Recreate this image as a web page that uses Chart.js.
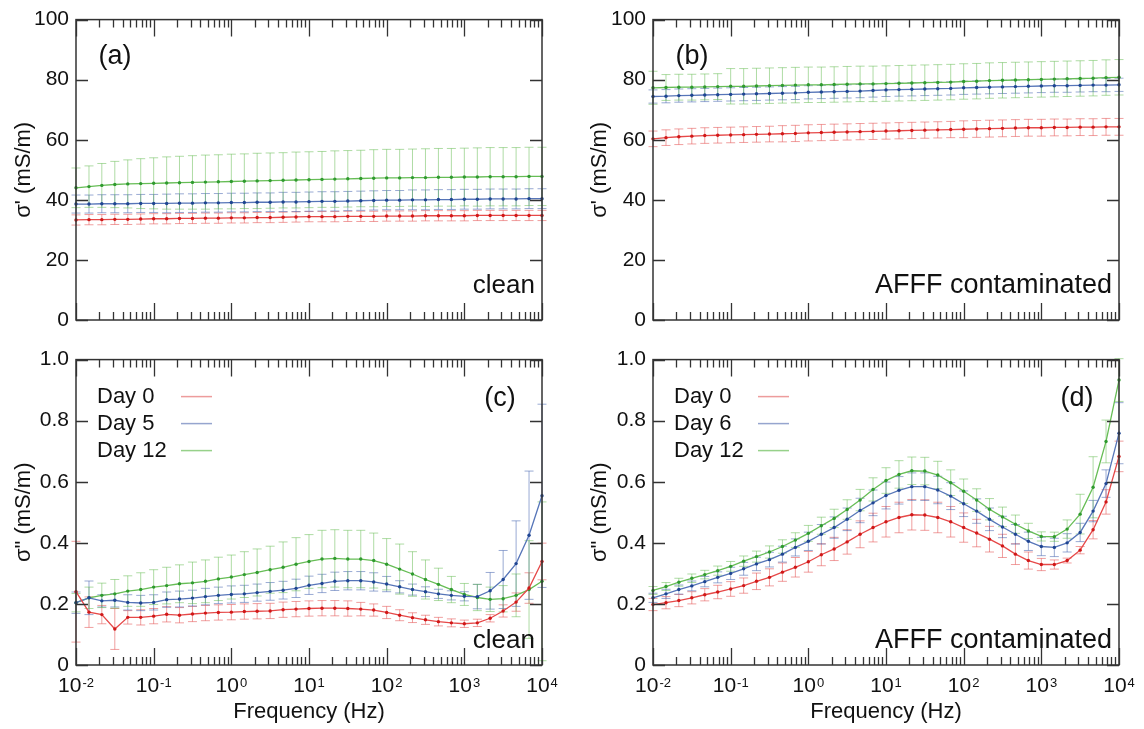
<!DOCTYPE html>
<html>
<head>
<meta charset="utf-8">
<script src="https://cdn.jsdelivr.net/npm/chart.js@4.4.1/dist/chart.umd.min.js"></script>
<style>
  body { margin: 0; background: #fff; }
  .wrap { position: relative; width: 1144px; height: 729px; }
  canvas { position: absolute; }
</style>
</head>
<body>
<div class="wrap">
  <canvas id="pa" width="572" height="340" style="left:0;top:0"></canvas>
  <canvas id="pb" width="572" height="340" style="left:572px;top:0"></canvas>
  <canvas id="pc" width="572" height="389" style="left:0;top:340px"></canvas>
  <canvas id="pd" width="572" height="389" style="left:572px;top:340px"></canvas>
</div>
<script>
// frequencies (Hz), 6 per decade
const freq = [0.01, 0.0147, 0.0215, 0.0316, 0.0464, 0.0681, 0.1, 0.147, 0.215, 0.316, 0.464, 0.681,
  1, 1.47, 2.15, 3.16, 4.64, 6.81, 10, 14.7, 21.5, 31.6, 46.4, 68.1,
  100, 147, 215, 316, 464, 681, 1000, 1470, 2150, 3160, 4640, 6810, 10000];

// tick labels
const xTickVals = [0.01, 0.1, 1, 10, 100, 1000, 10000];
const xTickExps = ['-2', '-1', '0', '1', '2', '3', '4'];
const yTicksReal = [0, 20, 40, 60, 80, 100];
const yLabelsReal = ['0', '20', '40', '60', '80', '100'];
const yTicksImag = [0, 0.2, 0.4, 0.6, 0.8, 1.0];
const yLabelsImag = ['0', '0.2', '0.4', '0.6', '0.8', '1.0'];

// (a) sigma' clean
const aDay0 = [33.3,33.4,33.4,33.5,33.5,33.6,33.7,33.7,33.8,33.8,33.9,33.9,34.0,34.0,34.1,34.1,34.2,34.3,34.4,34.4,34.4,34.5,34.5,34.5,34.6,34.6,34.6,34.7,34.7,34.7,34.7,34.8,34.8,34.8,34.8,34.8,34.8];
const aDay0Err = [1.7,1.7,1.7,1.7,1.7,1.7,1.7,1.7,1.7,1.7,1.7,1.7,1.7,1.7,1.7,1.7,1.7,1.7,1.7,1.7,1.7,1.7,1.7,1.7,1.7,1.7,1.7,1.7,1.7,1.7,1.7,1.7,1.7,1.7,1.7,1.7,1.7];
const aDay5 = [38.6,38.6,38.7,38.7,38.7,38.8,38.8,38.8,38.9,38.9,39.0,39.0,39.1,39.1,39.2,39.2,39.3,39.3,39.4,39.5,39.5,39.6,39.7,39.8,39.9,39.9,40.0,40.0,40.1,40.1,40.2,40.2,40.3,40.3,40.3,40.4,40.4];
const aDay5Err = [3.0,3.0,3.0,3.0,3.0,3.0,3.0,3.1,3.1,3.1,3.1,3.1,3.1,3.1,3.1,3.1,3.2,3.2,3.2,3.2,3.2,3.2,3.2,3.2,3.2,3.2,3.3,3.3,3.3,3.3,3.3,3.3,3.3,3.3,3.3,3.3,3.3];
const aDay12 = [44.0,44.4,44.8,45.1,45.3,45.4,45.5,45.6,45.7,45.8,45.9,46.0,46.1,46.2,46.3,46.4,46.5,46.6,46.7,46.8,46.9,47.0,47.1,47.2,47.3,47.3,47.4,47.4,47.5,47.5,47.6,47.6,47.7,47.7,47.7,47.8,47.8];
const aDay12Err = [6.6,6.9,7.3,7.7,8.0,8.3,8.5,8.7,8.8,8.9,9.0,9.0,9.1,9.1,9.2,9.2,9.2,9.3,9.3,9.3,9.4,9.4,9.4,9.5,9.5,9.5,9.5,9.6,9.6,9.6,9.6,9.7,9.7,9.7,9.7,9.7,9.7];

// (b) sigma' AFFF contaminated
const bDay0 = [60.3,60.7,61.0,61.2,61.4,61.5,61.6,61.7,61.8,61.9,62.0,62.1,62.3,62.4,62.5,62.6,62.7,62.8,62.9,63.0,63.1,63.2,63.3,63.4,63.5,63.6,63.7,63.8,63.9,64.0,64.0,64.1,64.1,64.2,64.2,64.3,64.3];
const bDay0Err = [2.6,2.6,2.6,2.6,2.6,2.6,2.6,2.6,2.6,2.6,2.7,2.7,2.7,2.7,2.7,2.7,2.7,2.7,2.7,2.7,2.7,2.7,2.7,2.7,2.8,2.8,2.8,2.8,2.8,2.8,2.8,2.8,2.8,2.8,2.8,2.8,2.8];
const bDay6 = [74.4,74.5,74.7,74.8,74.9,75.0,75.1,75.2,75.3,75.4,75.5,75.6,75.8,75.9,76.0,76.1,76.2,76.4,76.6,76.7,76.8,76.9,77.0,77.1,77.3,77.4,77.5,77.6,77.7,77.8,77.9,78.0,78.0,78.1,78.2,78.2,78.3];
const bDay6Err = [2.2,2.2,2.2,2.2,2.2,2.2,2.2,2.2,2.2,2.2,2.2,2.2,2.2,2.2,2.2,2.2,2.2,2.2,2.2,2.2,2.2,2.2,2.2,2.2,2.2,2.2,2.2,2.2,2.2,2.2,2.2,2.2,2.2,2.2,2.2,2.2,2.2];
const bDay12 = [77.3,77.4,77.5,77.5,77.6,77.7,77.8,77.8,77.9,78.0,78.1,78.2,78.3,78.3,78.4,78.5,78.6,78.6,78.7,78.8,78.9,79.0,79.1,79.2,79.4,79.5,79.7,79.8,79.9,80.0,80.1,80.2,80.3,80.4,80.5,80.7,80.8];
const bDay12Err = [5.5,4.3,4.3,4.3,4.3,4.3,5.9,5.9,5.9,5.9,5.9,5.9,5.9,5.9,5.9,5.9,5.9,5.9,5.9,5.9,5.9,5.9,5.9,5.9,5.9,5.9,5.9,5.9,5.9,5.9,5.9,5.9,5.9,5.9,5.9,5.9,5.9];

// (c) sigma'' clean
const cDay0 = [0.24,0.173,0.165,0.118,0.156,0.156,0.16,0.166,0.163,0.167,0.17,0.172,0.173,0.175,0.176,0.177,0.181,0.183,0.185,0.186,0.186,0.185,0.183,0.18,0.172,0.163,0.155,0.148,0.142,0.138,0.135,0.138,0.153,0.177,0.206,0.252,0.339];
const cDay0Err = [0.165,0.05,0.03,0.067,0.022,0.025,0.025,0.025,0.025,0.025,0.025,0.025,0.025,0.025,0.025,0.025,0.025,0.025,0.025,0.025,0.025,0.025,0.022,0.02,0.02,0.018,0.016,0.015,0.014,0.013,0.012,0.012,0.012,0.02,0.03,0.05,0.06];
const cDay5 = [0.204,0.22,0.21,0.212,0.205,0.203,0.205,0.214,0.216,0.219,0.224,0.228,0.231,0.233,0.237,0.241,0.245,0.251,0.261,0.267,0.274,0.276,0.276,0.272,0.265,0.256,0.247,0.24,0.233,0.228,0.225,0.224,0.243,0.28,0.332,0.425,0.554];
const cDay5Err = [0.035,0.055,0.02,0.022,0.025,0.025,0.025,0.025,0.026,0.026,0.027,0.027,0.028,0.028,0.028,0.029,0.029,0.03,0.03,0.03,0.03,0.03,0.03,0.03,0.025,0.02,0.018,0.016,0.015,0.015,0.015,0.04,0.06,0.095,0.14,0.21,0.3];
const cDay12 = [0.204,0.22,0.228,0.233,0.242,0.247,0.255,0.26,0.266,0.269,0.274,0.282,0.288,0.296,0.303,0.312,0.32,0.33,0.339,0.347,0.349,0.347,0.347,0.342,0.33,0.314,0.298,0.28,0.264,0.247,0.231,0.221,0.215,0.217,0.228,0.247,0.274];
const cDay12Err = [0.03,0.035,0.04,0.047,0.05,0.055,0.057,0.06,0.062,0.068,0.07,0.071,0.072,0.075,0.077,0.077,0.083,0.087,0.088,0.094,0.094,0.094,0.094,0.09,0.084,0.082,0.073,0.064,0.053,0.043,0.036,0.043,0.04,0.043,0.07,0.16,0.26];

// (d) sigma'' AFFF contaminated
const dDay0 = [0.198,0.204,0.211,0.22,0.23,0.239,0.249,0.26,0.274,0.287,0.304,0.32,0.338,0.361,0.38,0.403,0.428,0.45,0.469,0.483,0.492,0.491,0.483,0.469,0.45,0.432,0.412,0.39,0.363,0.342,0.329,0.329,0.342,0.376,0.443,0.534,0.683];
const dDay0Err = [0.02,0.02,0.02,0.02,0.02,0.022,0.024,0.025,0.027,0.028,0.03,0.032,0.034,0.036,0.038,0.04,0.044,0.047,0.05,0.05,0.05,0.05,0.05,0.05,0.048,0.045,0.042,0.038,0.034,0.028,0.02,0.015,0.008,0.012,0.03,0.04,0.05];
const dDay6 = [0.22,0.233,0.247,0.259,0.273,0.287,0.3,0.315,0.331,0.345,0.363,0.385,0.405,0.428,0.45,0.477,0.506,0.531,0.555,0.572,0.584,0.584,0.573,0.553,0.528,0.504,0.477,0.452,0.428,0.405,0.388,0.385,0.4,0.434,0.504,0.594,0.759];
const dDay6Err = [0.015,0.015,0.015,0.016,0.017,0.018,0.02,0.021,0.022,0.024,0.026,0.028,0.03,0.032,0.035,0.037,0.04,0.042,0.044,0.045,0.045,0.045,0.045,0.044,0.042,0.04,0.037,0.035,0.032,0.03,0.03,0.03,0.03,0.03,0.035,0.045,0.1];
const dDay12 = [0.244,0.257,0.271,0.284,0.296,0.309,0.323,0.34,0.355,0.37,0.388,0.409,0.431,0.456,0.48,0.509,0.54,0.575,0.604,0.624,0.636,0.635,0.622,0.597,0.569,0.54,0.51,0.485,0.461,0.439,0.421,0.42,0.445,0.494,0.582,0.732,0.933];
const dDay12Err = [0.013,0.013,0.013,0.014,0.014,0.015,0.016,0.017,0.018,0.02,0.022,0.024,0.026,0.028,0.03,0.032,0.035,0.038,0.042,0.045,0.045,0.045,0.045,0.042,0.04,0.037,0.035,0.032,0.03,0.025,0.015,0.015,0.03,0.065,0.1,0.07,0.07];

const FONT = "'Liberation Sans', Arial, sans-serif";
const INK = '#111';
const colours = {
  red:   { line: '#e64848', dot: '#d01818', err: 'rgba(228,80,80,0.55)', key: 'rgba(225,90,90,0.6)' },
  blue:  { line: '#5675b8', dot: '#1f4592', err: 'rgba(70,100,175,0.55)', key: 'rgba(80,105,175,0.6)' },
  green: { line: '#66bd55', dot: '#2f9a2f', err: 'rgba(95,185,75,0.5)', key: 'rgba(95,185,75,0.65)' }
};

function series(label, vals, errs, c) {
  return {
    label: label,
    data: freq.map((f, i) => ({ x: f, y: vals[i] })),
    err: errs,
    borderColor: c.line,
    borderWidth: 1.3,
    pointRadius: 1.7,
    pointBackgroundColor: c.dot,
    pointBorderWidth: 0,
    errColor: c.err,
    keyColor: c.key,
    tension: 0,
    clip: false
  };
}

// error bars drawn from the y scale
const errorBars = {
  id: 'errorBars',
  beforeDatasetsDraw(chart) {
    const ctx = chart.ctx, ys = chart.scales.y;
    chart.data.datasets.forEach((ds, di) => {
      const meta = chart.getDatasetMeta(di);
      ctx.save();
      ctx.strokeStyle = ds.errColor;
      ctx.lineWidth = 1;
      meta.data.forEach((pt, i) => {
        const v = ds.data[i].y, e = ds.err[i];
        const y1 = ys.getPixelForValue(v - e), y2 = ys.getPixelForValue(v + e);
        ctx.beginPath();
        ctx.moveTo(pt.x, y1); ctx.lineTo(pt.x, y2);
        ctx.moveTo(pt.x - 4.5, y1); ctx.lineTo(pt.x + 4.5, y1);
        ctx.moveTo(pt.x - 4.5, y2); ctx.lineTo(pt.x + 4.5, y2);
        ctx.stroke();
      });
      ctx.restore();
    });
  }
};

// frame, inward ticks, log labels, panel texts, legend
const deco = {
  id: 'deco',
  afterDraw(chart, args, o) {
    const ctx = chart.ctx, a = chart.chartArea;
    const xs = chart.scales.x, ys = chart.scales.y;
    ctx.save();
    ctx.strokeStyle = '#333';
    ctx.lineWidth = 1.5;
    ctx.strokeRect(a.left, a.top, a.right - a.left, a.bottom - a.top);
    ctx.beginPath();
    o.yTicks.forEach(v => {
      const y = Math.round(ys.getPixelForValue(v)) + 0.5;
      ctx.moveTo(a.left, y); ctx.lineTo(a.left + 12, y);
      ctx.moveTo(a.right, y); ctx.lineTo(a.right - 12, y);
    });
    xTickVals.forEach((d, k) => {
      const x = Math.round(xs.getPixelForValue(d)) + 0.5;
      ctx.moveTo(x, a.bottom); ctx.lineTo(x, a.bottom - 17);
      ctx.moveTo(x, a.top); ctx.lineTo(x, a.top + 17);
      if (k < xTickVals.length - 1) {
        for (let m = 2; m <= 9; m++) {
          const xm = Math.round(xs.getPixelForValue(d * m)) + 0.5;
          ctx.moveTo(xm, a.bottom); ctx.lineTo(xm, a.bottom - 8);
          ctx.moveTo(xm, a.top); ctx.lineTo(xm, a.top + 8);
        }
      }
    });
    ctx.lineWidth = 1.3;
    ctx.stroke();

    ctx.fillStyle = INK;
    if (o.xLabels) {
      xTickVals.forEach((d, k) => {
        const x = xs.getPixelForValue(d);
        ctx.font = '21px ' + FONT;
        const wb = ctx.measureText('10').width;
        ctx.font = '13px ' + FONT;
        const we = ctx.measureText(xTickExps[k]).width;
        const x0 = x - (wb + 1 + we) / 2;
        ctx.textAlign = 'left';
        ctx.textBaseline = 'alphabetic';
        ctx.font = '21px ' + FONT;
        ctx.fillText('10', x0, a.bottom + 27);
        ctx.font = '13px ' + FONT;
        ctx.fillText(xTickExps[k], x0 + wb + 1, a.bottom + 22);
      });
    }

    ctx.font = '27px ' + FONT;
    ctx.textAlign = 'center';
    ctx.textBaseline = 'middle';
    if (o.letterLeft) ctx.fillText(o.letter, a.left + 39, a.top + 37);
    else ctx.fillText(o.letter, a.right - 42, a.top + 39);

    ctx.font = o.noteSize + 'px ' + FONT;
    ctx.textAlign = 'right';
    ctx.textBaseline = 'alphabetic';
    ctx.fillText(o.note, a.right - 7, a.bottom - o.noteLift);

    if (o.legend) {
      ctx.font = '22px ' + FONT;
      ctx.textAlign = 'left';
      ctx.textBaseline = 'middle';
      chart.data.datasets.forEach((ds, i) => {
        const y = a.top + 37 + i * 27;
        ctx.fillStyle = INK;
        ctx.fillText(ds.label, a.left + 21, y);
        ctx.strokeStyle = ds.keyColor;
        ctx.lineWidth = 1.5;
        ctx.beginPath();
        ctx.moveTo(a.left + 105, y); ctx.lineTo(a.left + 136, y);
        ctx.stroke();
      });
    }
    ctx.restore();
  }
};

function makePanel(id, p) {
  new Chart(document.getElementById(id), {
    type: 'line',
    data: { datasets: p.datasets },
    plugins: [errorBars, deco],
    options: {
      responsive: false,
      animation: false,
      layout: { padding: { top: p.padTop, right: p.padRight, left: 0, bottom: 0 } },
      plugins: {
        legend: { display: false },
        tooltip: { enabled: false },
        deco: p.deco
      },
      scales: {
        x: {
          type: 'logarithmic',
          min: 0.01,
          max: 10000,
          ticks: { display: false },
          grid: { display: false, drawTicks: false },
          border: { display: false },
          title: {
            display: !!p.xTitle,
            text: p.xTitle || '',
            color: INK,
            font: { size: 22, family: FONT },
            padding: { top: 0, bottom: 4 }
          },
          afterFit: s => { s.height = p.xHeight; }
        },
        y: {
          min: 0,
          max: p.yTicks[p.yTicks.length - 1],
          afterBuildTicks: s => { s.ticks = p.yTicks.map(v => ({ value: v })); },
          ticks: {
            color: INK,
            padding: 7,
            font: { size: 21, family: FONT },
            callback: (v, i) => p.yLabels[i]
          },
          grid: { display: false, drawTicks: false },
          border: { display: false },
          title: {
            display: true,
            text: p.yTitle,
            color: INK,
            font: { size: 22, family: FONT },
            padding: { top: p.yTitlePad, bottom: 0 }
          },
          afterFit: s => { s.width = p.yWidth; }
        }
      }
    }
  });
}

makePanel('pa', {
  datasets: [
    series('Day 0', aDay0, aDay0Err, colours.red),
    series('Day 5', aDay5, aDay5Err, colours.blue),
    series('Day 12', aDay12, aDay12Err, colours.green)
  ],
  padTop: 12, padRight: 30, yWidth: 76, xHeight: 20, yTitlePad: 11,
  yTicks: yTicksReal, yLabels: yLabelsReal, yTitle: "σ' (mS/m)",
  deco: { letter: '(a)', letterLeft: true, note: 'clean', noteSize: 26, noteLift: 27, legend: false, xLabels: false, yTicks: yTicksReal }
});

makePanel('pb', {
  datasets: [
    series('Day 0', bDay0, bDay0Err, colours.red),
    series('Day 6', bDay6, bDay6Err, colours.blue),
    series('Day 12', bDay12, bDay12Err, colours.green)
  ],
  padTop: 12, padRight: 25, yWidth: 81, xHeight: 20, yTitlePad: 15,
  yTicks: yTicksReal, yLabels: yLabelsReal, yTitle: "σ' (mS/m)",
  deco: { letter: '(b)', letterLeft: true, note: 'AFFF contaminated', noteSize: 27, noteLift: 27, legend: false, xLabels: false, yTicks: yTicksReal }
});

makePanel('pc', {
  datasets: [
    series('Day 0', cDay0, cDay0Err, colours.red),
    series('Day 5', cDay5, cDay5Err, colours.blue),
    series('Day 12', cDay12, cDay12Err, colours.green)
  ],
  padTop: 18, padRight: 30, yWidth: 76, xHeight: 64, yTitlePad: 11,
  yTicks: yTicksImag, yLabels: yLabelsImag, yTitle: 'σ" (mS/m)', xTitle: 'Frequency (Hz)',
  deco: { letter: '(c)', letterLeft: false, note: 'clean', noteSize: 26, noteLift: 17, legend: true, xLabels: true, yTicks: yTicksImag }
});

makePanel('pd', {
  datasets: [
    series('Day 0', dDay0, dDay0Err, colours.red),
    series('Day 6', dDay6, dDay6Err, colours.blue),
    series('Day 12', dDay12, dDay12Err, colours.green)
  ],
  padTop: 18, padRight: 25, yWidth: 81, xHeight: 64, yTitlePad: 15,
  yTicks: yTicksImag, yLabels: yLabelsImag, yTitle: 'σ" (mS/m)', xTitle: 'Frequency (Hz)',
  deco: { letter: '(d)', letterLeft: false, note: 'AFFF contaminated', noteSize: 27, noteLift: 17, legend: true, xLabels: true, yTicks: yTicksImag }
});
</script>
</body>
</html>
